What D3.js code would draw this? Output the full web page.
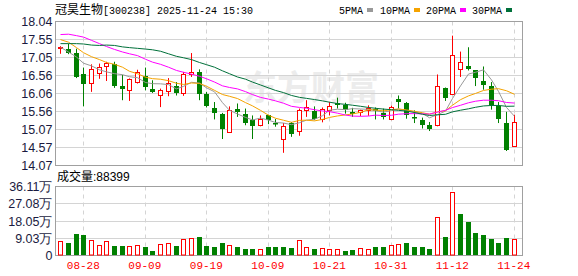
<!DOCTYPE html>
<html>
<head>
<meta charset="utf-8">
<script src="https://cdn.jsdelivr.net/npm/d3@7"></script>
<style>
  body { margin: 0; background: #fff; }
  svg { display: block; }
  text { font-family: "Liberation Sans", Arial, sans-serif; }
</style>
</head>
<body>
<svg id="chart" width="578" height="276"></svg>
<script>
// daily k-line for 冠昊生物 with MA lines and volume panel

var dates = [
  "08-25", "08-26", "08-27", "08-28", "08-29",
  "09-01", "09-02", "09-03", "09-04", "09-05",
  "09-08", "09-09", "09-10", "09-11", "09-12",
  "09-15", "09-16", "09-17", "09-18", "09-19",
  "09-22", "09-23", "09-24", "09-25", "09-26",
  "09-29", "09-30", "10-09", "10-10",
  "10-13", "10-14", "10-15", "10-16", "10-17",
  "10-20", "10-21", "10-22", "10-23", "10-24",
  "10-27", "10-28", "10-29", "10-30", "10-31",
  "11-03", "11-04", "11-05", "11-06", "11-07",
  "11-10", "11-11", "11-12", "11-13", "11-14",
  "11-17", "11-18", "11-19", "11-20", "11-21",
  "11-24"
];

var opens = [
  17.30, 17.29, 17.18, 16.58, 16.34, 16.63, 16.81, 16.86, 16.25, 16.16,
  16.36, 16.55, 16.17, 16.02, 16.12, 16.27, 16.08, 16.60, 16.66, 16.05,
  15.66, 15.48, 14.98, 15.62, 15.50, 15.32, 15.20, 15.45, 15.24, 14.81,
  15.23, 15.01, 15.61, 15.57, 15.34, 15.61, 15.78, 15.75, 15.54, 15.54,
  15.61, 15.63, 15.52, 15.35, 15.91, 15.78, 15.41, 15.32, 15.18, 15.18,
  16.22, 16.05, 16.74, 16.80, 16.69, 16.39, 16.25, 15.72, 15.25, 14.62
];
var highs = [
  17.36, 17.43, 17.29, 16.77, 16.86, 16.88, 16.93, 16.93, 16.57, 16.47,
  16.71, 16.77, 16.42, 16.19, 16.48, 16.37, 16.65, 17.17, 16.72, 16.10,
  15.82, 15.52, 15.70, 15.78, 15.64, 15.45, 15.45, 15.47, 15.35, 15.24,
  15.27, 15.64, 15.87, 15.70, 15.67, 15.82, 15.94, 15.80, 15.66, 15.61,
  15.73, 15.67, 15.64, 15.72, 16.00, 15.82, 15.59, 15.39, 15.27, 16.58,
  16.22, 17.65, 17.21, 17.33, 16.69, 16.80, 16.37, 15.82, 15.55, 15.47
];
var lows = [
  17.15, 17.14, 16.48, 15.70, 16.10, 16.46, 16.40, 16.21, 15.87, 15.85,
  16.33, 16.14, 16.07, 15.68, 15.98, 16.00, 15.99, 16.51, 15.87, 15.67,
  15.34, 14.80, 14.97, 15.41, 15.18, 14.80, 15.15, 15.21, 15.14, 14.42,
  14.86, 14.89, 15.41, 15.32, 15.26, 15.45, 15.64, 15.50, 15.41, 15.43,
  15.44, 15.34, 15.34, 15.32, 15.64, 15.36, 15.24, 15.09, 15.02, 15.15,
  15.85, 16.03, 16.51, 16.69, 16.26, 16.16, 15.61, 15.24, 14.47, 14.62
];
var closes = [
  17.33, 17.18, 16.51, 16.32, 16.74, 16.79, 16.90, 16.26, 16.18, 16.46,
  16.66, 16.23, 16.10, 16.16, 16.35, 16.07, 16.58, 16.66, 16.05, 15.70,
  15.52, 15.08, 15.61, 15.54, 15.23, 15.17, 15.34, 15.32, 15.22, 15.15,
  14.95, 15.61, 15.67, 15.34, 15.64, 15.71, 15.75, 15.61, 15.48, 15.59,
  15.66, 15.57, 15.41, 15.68, 15.82, 15.45, 15.38, 15.20, 15.08, 16.25,
  15.94, 17.12, 16.93, 16.72, 16.49, 16.28, 15.73, 15.34, 14.51, 15.27
];

// volume in 万 (10k)
var volumes = [
  7.85, 6.8, 11.0, 10.5, 8.2, 5.6, 7.85, 5.2, 5.2, 5.06,
  5.6, 4.2, 2.6, 6.1, 6.6, 5.2, 8.4, 9.2, 9.9, 5.2,
  4.7, 6.3, 5.6, 4.2, 3.66, 3.66, 3.5, 4.2, 4.2, 4.2,
  4.0, 8.2, 4.4, 3.5, 4.0, 3.5, 3.5, 2.6, 3.1, 4.0,
  3.5, 4.2, 4.2, 5.6, 6.1, 6.3, 4.7, 4.7, 3.66, 20.2,
  9.9, 33.3, 21.5, 17.4, 12.0, 10.5, 8.4, 6.8, 9.4, 8.84
];

// MA values before each window is full
var ma5Head = [17.33, 17.20, 17.06, 16.89];
var ma10Head = [17.54, 17.47, 17.32, 17.18, 17.07, 16.99, 16.91, 16.86, 16.78];
var ma20Head = [
  17.68, 17.69, 17.65, 17.61, 17.52, 17.43, 17.35, 17.27, 17.20, 17.15,
  17.10, 17.00, 16.92, 16.86, 16.78, 16.69, 16.64, 16.59, 16.53
];
var ma30Head = [
  17.43, 17.43, 17.43, 17.42, 17.39, 17.38, 17.39, 17.38, 17.34, 17.32,
  17.30, 17.28, 17.26, 17.22, 17.15, 17.08, 17.04, 16.99, 16.91, 16.85,
  16.78, 16.68, 16.60, 16.51, 16.45, 16.37, 16.29, 16.21, 16.14
];

var priceTicks = [18.04, 17.55, 17.05, 16.56, 16.06, 15.56, 15.07, 14.57, 14.07];
var volTicks = [0, 9.03, 18.05, 27.08, 36.11];
var volTickLabels = ["0", "9.03万", "18.05万", "27.08万", "36.11万"];
var dateTicks = ["08-28", "09-09", "09-19", "10-09", "10-21", "10-31", "11-12", "11-24"];

var maNames = ["5PMA", "10PMA", "20PMA", "30PMA"];
var maColors = ["#999999", "#f5a300", "#ff00ff", "#00703a"];

var left = 55.5, right = 522.5;
var priceTop = 21.5, priceBottom = 165.5;
var volTop = 186.5, volBottom = 255.5;

var up_color = "#ff0000", down_color = "#008000";
var grid_color = "#d4d4d4", frame_color = "#a0a0a0";

var svg = d3.select("#chart");

var x = d3.scaleBand().domain(dates).range([56.4, 517.6]).padding(0);
function cx(d) { return Math.round(x(d) + x.bandwidth() / 2); }

var y = d3.scaleLinear().domain([14.07, 18.04]).range([priceBottom, priceTop]);
var yv = d3.scaleLinear().domain([0, 36.11]).range([volBottom, volTop]);

function movingAverage(n, head) {
  return closes.map(function(c, i) {
    if (i < n - 1) return head[i];
    return d3.mean(closes.slice(i - n + 1, i + 1));
  });
}
var maSeries = [movingAverage(5, ma5Head), movingAverage(10, ma10Head),
                movingAverage(20, ma20Head), movingAverage(30, ma30Head)];

// header
var head = svg.append("text").attr("x", 55).attr("y", 14)
  .attr("fill", "#000");
head.append("tspan").style("font-family", "'Noto Sans CJK SC'")
  .style("font-size", "12px").text("冠昊生物");
head.append("tspan").style("font-family", "'Liberation Mono', monospace")
  .style("font-size", "10px").text("[300238] 2025-11-24 15:30");

// legend
var legendX = [339, 380, 426, 472];
maNames.forEach(function(name, k) {
  svg.append("text").attr("x", legendX[k]).attr("y", 14)
    .style("font-family", "'Liberation Mono', monospace")
    .style("font-size", "10px").attr("fill", "#000").text(name);
  svg.append("rect").attr("x", legendX[k] + name.length * 6 + 4).attr("y", 8)
    .attr("width", 6).attr("height", 4).attr("fill", maColors[k]);
});

// watermark
svg.append("text").attr("x", 243).attr("y", 100)
  .style("font-family", "'Noto Sans CJK SC'").style("font-size", "34px")
  .style("font-weight", "bold").attr("fill", "#ececec").text("东方财富");

// grids
function hgrid(scale, ticks) {
  svg.append("g").selectAll("line").data(ticks).enter().append("line")
    .attr("x1", left).attr("x2", right)
    .attr("y1", function(d) { return Math.round(scale(d) - 0.5) + 0.5; })
    .attr("y2", function(d) { return Math.round(scale(d) - 0.5) + 0.5; })
    .attr("stroke", grid_color).attr("stroke-width", 1);
}
hgrid(y, priceTicks);
hgrid(yv, volTicks);

[[priceTop, priceBottom], [volTop, volBottom]].forEach(function(r) {
  svg.append("g").selectAll("line").data(dateTicks).enter().append("line")
    .attr("x1", function(d) { return cx(d) + 0.5; })
    .attr("x2", function(d) { return cx(d) + 0.5; })
    .attr("y1", r[0]).attr("y2", r[1])
    .attr("stroke", grid_color).attr("stroke-dasharray", "4,4");
});

// frames
svg.append("rect").attr("x", left).attr("y", priceTop)
  .attr("width", right - left).attr("height", priceBottom - priceTop)
  .attr("fill", "none").attr("stroke", frame_color);
svg.append("rect").attr("x", left).attr("y", volTop)
  .attr("width", right - left).attr("height", volBottom - volTop)
  .attr("fill", "none").attr("stroke", frame_color);

// axes labels
var yAxis = d3.axisLeft(y).tickValues(priceTicks).tickSize(0).tickPadding(3)
  .tickFormat(d3.format(".2f"));
var ga = svg.append("g").attr("transform", "translate(" + left + ",0)").call(yAxis);
ga.select(".domain").remove();
ga.selectAll("text").style("font-size", "12.5px").attr("fill", "#1a1a40")
  .style("font-family", "'Liberation Sans', Arial, sans-serif");

var vAxis = d3.axisLeft(yv).tickValues(volTicks).tickSize(0).tickPadding(3)
  .tickFormat(function(d, i) { return volTickLabels[i]; });
var gv = svg.append("g").attr("transform", "translate(" + left + ",0)").call(vAxis);
gv.select(".domain").remove();
gv.selectAll("text").style("font-size", "12.5px").attr("fill", "#1a1a40")
  .style("font-family", "'Liberation Sans', Arial, sans-serif");

var xAxis = d3.axisBottom(x).tickValues(dateTicks).tickSize(0).tickPadding(0);
var gx = svg.append("g").attr("transform", "translate(0,261.5)").call(xAxis);
gx.select(".domain").remove();
gx.selectAll("text").style("font-size", "11px").attr("fill", "#ff0000")
  .style("font-family", "'Liberation Mono', monospace");

// volume title
var vt = svg.append("text").attr("x", 57).attr("y", 181).attr("fill", "#000");
vt.append("tspan").style("font-family", "'Noto Sans CJK SC'")
  .style("font-size", "12px").text("成交量");
vt.append("tspan").style("font-size", "12px").text(":88399");

// candles
var idx = d3.range(dates.length);
var candles = svg.append("g").selectAll("g").data(idx).enter().append("g");
candles.each(function(i) {
  var g = d3.select(this);
  var isUp = closes[i] >= opens[i];
  var col = isUp ? up_color : down_color;
  var c = cx(dates[i]);
  g.append("line").attr("x1", c + 0.5).attr("x2", c + 0.5)
    .attr("y1", y(highs[i])).attr("y2", y(lows[i]))
    .attr("stroke", col).attr("stroke-width", 1);
  var top = Math.round(y(Math.max(opens[i], closes[i])));
  var bot = Math.round(y(Math.min(opens[i], closes[i])));
  if (isUp) {
    g.append("rect").attr("x", c - 1.5).attr("y", top + 0.5)
      .attr("width", 4).attr("height", Math.max(bot - top, 1))
      .attr("fill", "#fff").attr("stroke", col);
  } else {
    g.append("rect").attr("x", c - 2).attr("y", top)
      .attr("width", 5).attr("height", Math.max(bot - top, 1.5))
      .attr("fill", col);
  }
});

// moving averages
maSeries.forEach(function(ma, k) {
  var line = d3.line()
    .x(function(d, i) { return cx(dates[i]) + 0.5; })
    .y(function(d) { return y(d); });
  svg.append("path").datum(ma).attr("d", line)
    .attr("fill", "none").attr("stroke", maColors[k]).attr("stroke-width", 1);
});

// volume bars, coloured by change against previous close
svg.append("g").selectAll("rect").data(idx).enter().append("rect")
  .each(function(i) {
    var isUp = i === 0 ? closes[i] >= opens[i] : closes[i] >= closes[i - 1];
    var c = cx(dates[i]);
    var top = Math.round(yv(volumes[i]));
    var r = d3.select(this);
    if (isUp) {
      r.attr("x", c - 1.5).attr("y", top + 0.5).attr("width", 4)
        .attr("height", volBottom - 0.5 - top - 0.5)
        .attr("fill", "#fff").attr("stroke", up_color);
    } else {
      r.attr("x", c - 2).attr("y", top).attr("width", 5)
        .attr("height", volBottom - 0.5 - top).attr("fill", down_color);
    }
  });
</script>
</body>
</html>
